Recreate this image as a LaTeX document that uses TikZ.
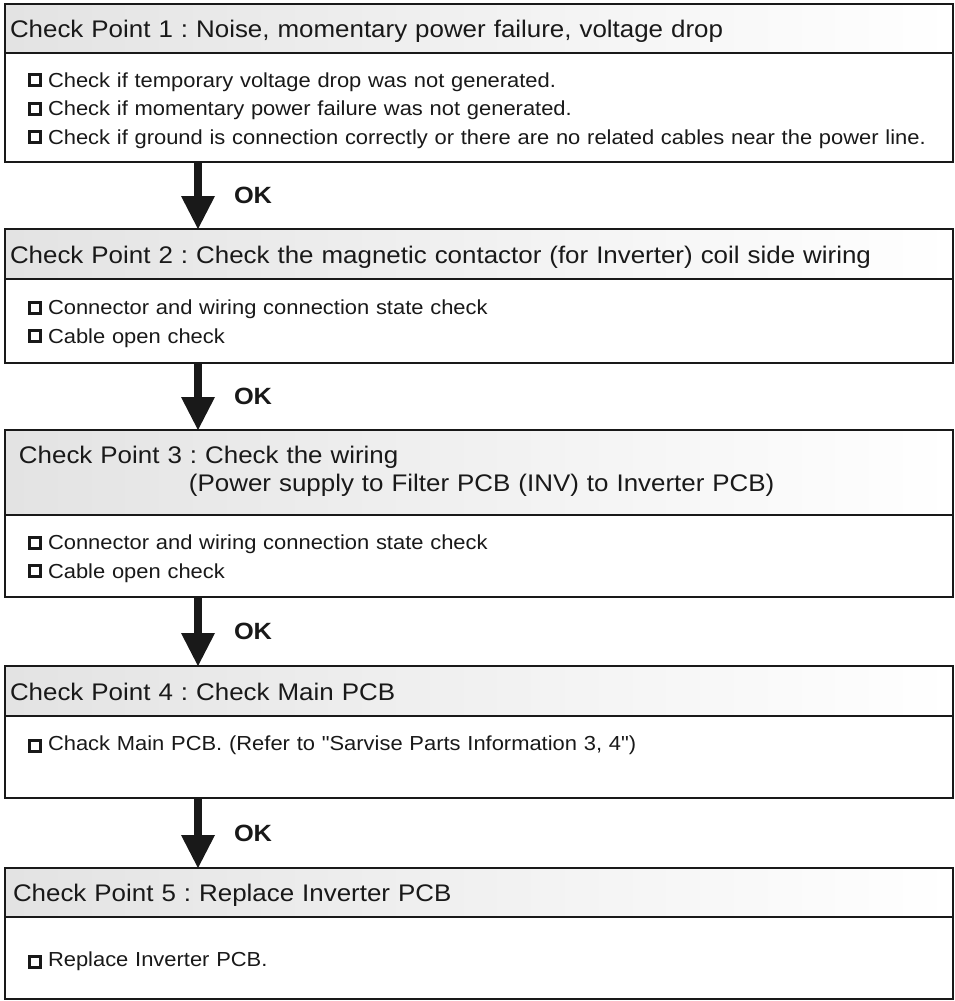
\documentclass[tikz,border=0pt]{standalone}
\usepackage{fontspec}
\setmainfont{Liberation Sans}[FakeStretch=1.08, Ligatures=TeXOff]
\usetikzlibrary{arrows.meta,positioning}

\newcommand{\chk}[1][0pt]{\raisebox{#1}{\rlap{\rule{14pt}{14pt}}\hspace{3pt}\raisebox{3pt}{\color{white}\rule{8pt}{8pt}}\hspace{3pt}}\hspace{6pt}}
\frenchspacing

\begin{document}
\begin{tikzpicture}[
  x=1pt, y=1pt,
  hdr/.style={draw=black!90, line width=1.5pt, outer sep=0pt, left color=gray!22, right color=white,
              text width=938pt, inner xsep=5pt, inner ysep=0pt, minimum height=49pt,
              text height=22pt, text depth=4pt, align=left, text=black!90,
              font=\fontsize{24pt}{28pt}\selectfont},
  body/.style={draw=black!90, line width=1.5pt, outer sep=0pt, fill=white,
               text width=902pt, inner xsep=23pt, inner ysep=0pt, minimum height=82pt,
               text height=20.3pt, align=left, text=black!90,
               font=\fontsize{20.3pt}{28.5pt}\selectfont},
  okarrow/.style={line width=8pt, draw=black!90, -{Triangle[width=34pt, length=33pt, line width=0pt]}},
  ok/.style={font=\bfseries\fontsize{23.5pt}{28pt}\selectfont, text=black!90, inner sep=2pt}
]
\useasboundingbox (0,0) rectangle (954,-1001);
\coordinate (ax) at (198,0);

\node[hdr, anchor=north] (h1) at (479,-4) {Check Point 1 : Noise, momentary power failure, voltage drop};
\node[body, below=0pt of h1, minimum height=109pt] (b1) {\chk Check if temporary voltage drop was not generated.\\
  \chk Check if momentary power failure was not generated.\\
  \chk Check if ground is connection correctly or there are no related cables near the power line.};
\node[hdr, below=67pt of b1, minimum height=50pt] (h2) {Check Point 2 : Check the magnetic contactor (for Inverter) coil side wiring};
\node[body, below=0pt of h2, minimum height=84pt] (b2) {\chk Connector and wiring connection state check\\
  \chk Cable open check};
\node[hdr, below=67pt of b2, minimum height=85pt, text depth=41pt] (h3) {\hspace*{9pt}Check Point 3 : Check the wiring\\
  \hspace*{179pt}(Power supply to Filter PCB (INV) to Inverter PCB)};
\node[body, below=0pt of h3] (b3) {\chk Connector and wiring connection state check\\
  \chk Cable open check};
\node[hdr, below=69pt of b3, minimum height=50pt] (h4) {Check Point 4 : Check Main PCB};
\node[body, below=0pt of h4, text depth=34pt] (b4) {\chk[-2.5pt]Chack Main PCB. (Refer to "Sarvise Parts Information 3, 4")};
\node[hdr, below=70pt of b4] (h5) {\hspace*{3pt}Check Point 5 : Replace Inverter PCB};
\node[body, below=0pt of h5] (b5) {\chk[-2.5pt]Replace Inverter PCB.};

\draw[okarrow] (b1.south -| ax) -- (h2.north -| ax) node[ok, midway, right=30pt] (ok1) {OK};
\draw[okarrow] (b2.south -| ax) -- (h3.north -| ax) node[ok, midway, right=30pt] (ok2) {OK};
\draw[okarrow] (b3.south -| ax) -- (h4.north -| ax) node[ok, midway, right=30pt] (ok3) {OK};
\draw[okarrow] (b4.south -| ax) -- (h5.north -| ax) node[ok, midway, right=30pt] (ok4) {OK};
\end{tikzpicture}
\end{document}
